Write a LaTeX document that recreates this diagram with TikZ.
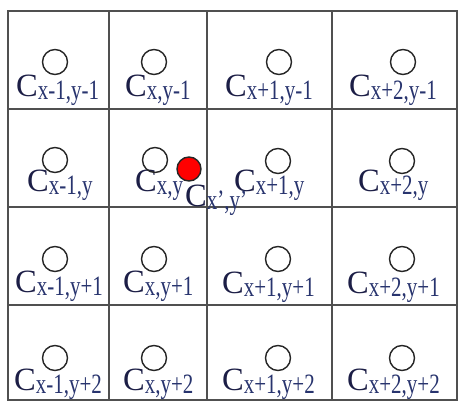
\documentclass[tikz,border=0pt]{standalone}
\usepackage{fontspec}
\setmainfont{Liberation Serif}
\usepackage{xcolor}
\usetikzlibrary{positioning}
\definecolor{inkC}{RGB}{28,30,70}
\definecolor{inkS}{RGB}{40,52,110}
\definecolor{gridgray}{RGB}{80,80,80}
\newcommand{\cellname}[1]{{\color{inkC}C}\raisebox{-3pt}{\fontsize{28}{28}\selectfont\color{inkS}\scalebox{0.75}[1]{#1}}}
\tikzset{
  gridline/.style = {draw=gridgray, line width=1.8pt},
  pix/.style      = {circle, draw=black!85, line width=1.4pt, minimum size=25pt, inner sep=0pt},
  pixR/.style     = {circle, draw=black!85, fill=red, line width=1.4pt, minimum size=24pt, inner sep=0pt},
  lbl/.style      = {anchor=base west, inner sep=0pt, font=\fontsize{32.5}{34}\selectfont},
}
\begin{document}
\begin{tikzpicture}[x=1pt, y=-1pt]
    \useasboundingbox (0,0) rectangle (461,403);

    %% Grid
    \draw[gridline] (8,11) rectangle (457,400);
    \draw[gridline] (109,11) -- (109,400);
    \draw[gridline] (207,11) -- (207,400);
    \draw[gridline] (332,11) -- (332,400);
    \draw[gridline] (8,109) -- (457,109);
    \draw[gridline] (8,207) -- (457,207);
    \draw[gridline] (8,305) -- (457,305);

    %% Row y-1
    \node[lbl] (l11) at ( 16, 97) {\cellname{x-1,y-1}};
    \node[lbl] (l12) at (125, 97) {\cellname{x,y-1}};
    \node[lbl] (l13) at (225, 97) {\cellname{x+1,y-1}};
    \node[lbl] (l14) at (349, 97) {\cellname{x+2,y-1}};
    \node[pix] (p11) at ( 55, 62) {};
    \node[pix] (p12) at (154, 62) {};
    \node[pix] (p13) at (279, 62) {};
    \node[pix] (p14) at (403, 62) {};

    %% Row y
    \node[lbl] (l21) at ( 27,192) {\cellname{x-1,y}};
    \node[lbl] (l22) at (135,192) {\cellname{x,y}};
    \node[lbl] (l23) at (234,192) {\cellname{x+1,y}};
    \node[lbl] (l24) at (358,192) {\cellname{x+2,y}};
    \node[pix] (p21) at ( 55,160) {};
    \node[pix] (p22) at (155,160) {};
    \node[pix] (p23) at (278,161) {};
    \node[pix] (p24) at (402,161) {};
    \node[pixR] (pr) at (189,169) {};
    \node[lbl] (lr)  at (185,207) {\cellname{x',y'}};

    %% Row y+1
    \node[lbl] (l31) at ( 15,293) {\cellname{x-1,y+1}};
    \node[lbl] (l32) at (123,293) {\cellname{x,y+1}};
    \node[lbl] (l33) at (222,294) {\cellname{x+1,y+1}};
    \node[lbl] (l34) at (347,294) {\cellname{x+2,y+1}};
    \node[pix] (p31) at ( 55,259) {};
    \node[pix] (p32) at (154,259) {};
    \node[pix] (p33) at (278,259) {};
    \node[pix] (p34) at (402,259) {};

    %% Row y+2
    \node[lbl] (l41) at ( 14,391) {\cellname{x-1,y+2}};
    \node[lbl] (l42) at (123,391) {\cellname{x,y+2}};
    \node[lbl] (l43) at (222,391) {\cellname{x+1,y+2}};
    \node[lbl] (l44) at (347,391) {\cellname{x+2,y+2}};
    \node[pix] (p41) at ( 55,358) {};
    \node[pix] (p42) at (154,358) {};
    \node[pix] (p43) at (278,358) {};
    \node[pix] (p44) at (402,358) {};

\end{tikzpicture}
\end{document}
